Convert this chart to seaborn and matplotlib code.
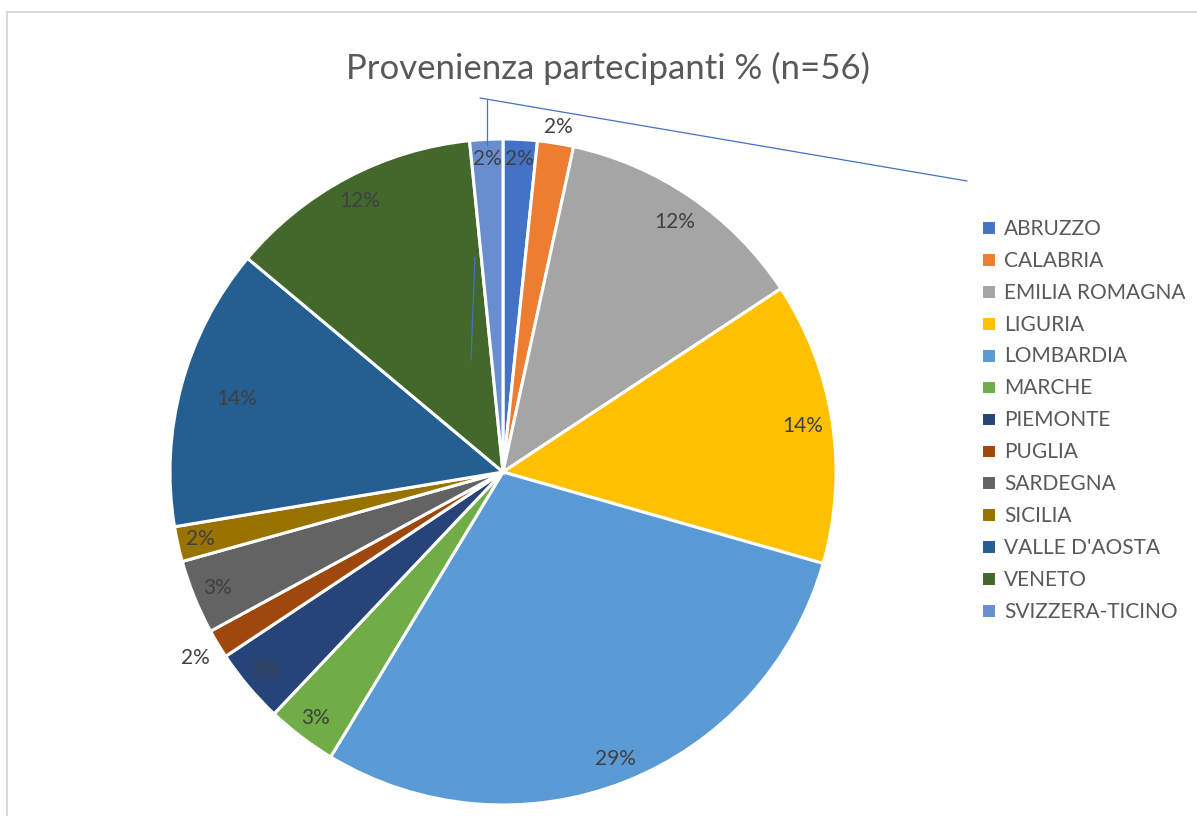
import matplotlib
matplotlib.use("Agg")
import matplotlib.pyplot as plt
from matplotlib.lines import Line2D
from matplotlib.patches import Rectangle
import numpy as np
import seaborn as sns

# Data (percent shares)
regions = ["ABRUZZO", "CALABRIA", "EMILIA ROMAGNA", "LIGURIA", "LOMBARDIA",
           "MARCHE", "PIEMONTE", "PUGLIA", "SARDEGNA", "SICILIA",
           "VALLE D'AOSTA", "VENETO", "SVIZZERA-TICINO"]
shares = [1.65, 1.75, 12.3, 13.7, 29.2, 3.4, 3.6, 1.4, 3.6, 1.7, 13.7, 12.3, 1.6]
pct_labels = ["2%", "2%", "12%", "14%", "29%", "3%", "3%", "2%", "3%", "2%",
              "14%", "12%", "2%"]

colors = ["#4472C4", "#ED7D31", "#A5A5A5", "#FFC000", "#5B9BD5", "#70AD47",
          "#264478", "#9E480E", "#636363", "#997300", "#255E91", "#43682B",
          "#698ED0"]
# label distance from centre (fraction of radius), best-fit style
label_dist = [0.94, 1.05, 0.91, 0.91, 0.925, 0.93, 0.93, 1.08, 0.925, 0.93,
              0.83, 0.92, 0.94]

sns.set_theme(style="white")
plt.rcParams["font.family"] = ["Lato", "DejaVu Sans"]

W, H = 1197, 816
fig = plt.figure(figsize=(W / 100, H / 100), dpi=100)

cx, cy, r = 503, 472, 333
ax = fig.add_axes([(cx - r) / W, (H - cy - r) / H, 2 * r / W, 2 * r / H])
wedges, _ = ax.pie(shares, colors=sns.color_palette(colors), startangle=90,
                   counterclock=False, radius=1,
                   wedgeprops=dict(edgecolor="white", linewidth=2.2))
ax.set_xlim(-1, 1)
ax.set_ylim(-1, 1)
ax.set_aspect("equal")
ax.axis("off")

for w, lab, d in zip(wedges, pct_labels, label_dist):
    mid = np.deg2rad((w.theta1 + w.theta2) / 2)
    ax.text(d * np.cos(mid), d * np.sin(mid), lab, ha="center", va="center",
            fontsize=15, color="#404040")

fig.text(608 / W, 1 - 68 / H, "Provenienza partecipanti % (n=56)",
         ha="center", va="center", fontsize=25, color="#595959")

leg = fig.legend(wedges, regions, loc="upper left",
                 bbox_to_anchor=(981 / W, 1 - 219 / H), frameon=False,
                 fontsize=15, handlelength=0.7, handleheight=0.7,
                 handletextpad=0.4, labelspacing=0.57, borderaxespad=0,
                 borderpad=0)
for t in leg.get_texts():
    t.set_color("#595959")

# leader lines left by the original chart
blue = "#4472C4"
for (x0, y0), (x1, y1) in [((480, 98), (967, 181)), ((487, 100), (487, 145)),
                           ((475, 257), (471, 360))]:
    fig.add_artist(Line2D([x0 / W, x1 / W], [1 - y0 / H, 1 - y1 / H],
                          color=blue, linewidth=0.9))

# chart border
fig.add_artist(Rectangle((7 / W, -0.1), 1.2, 1 - 12 / H + 0.1, fill=False,
                         edgecolor="#D9D9D9", linewidth=1.5,
                         transform=fig.transFigure))

fig.savefig("out.png", dpi=100, facecolor="white")
